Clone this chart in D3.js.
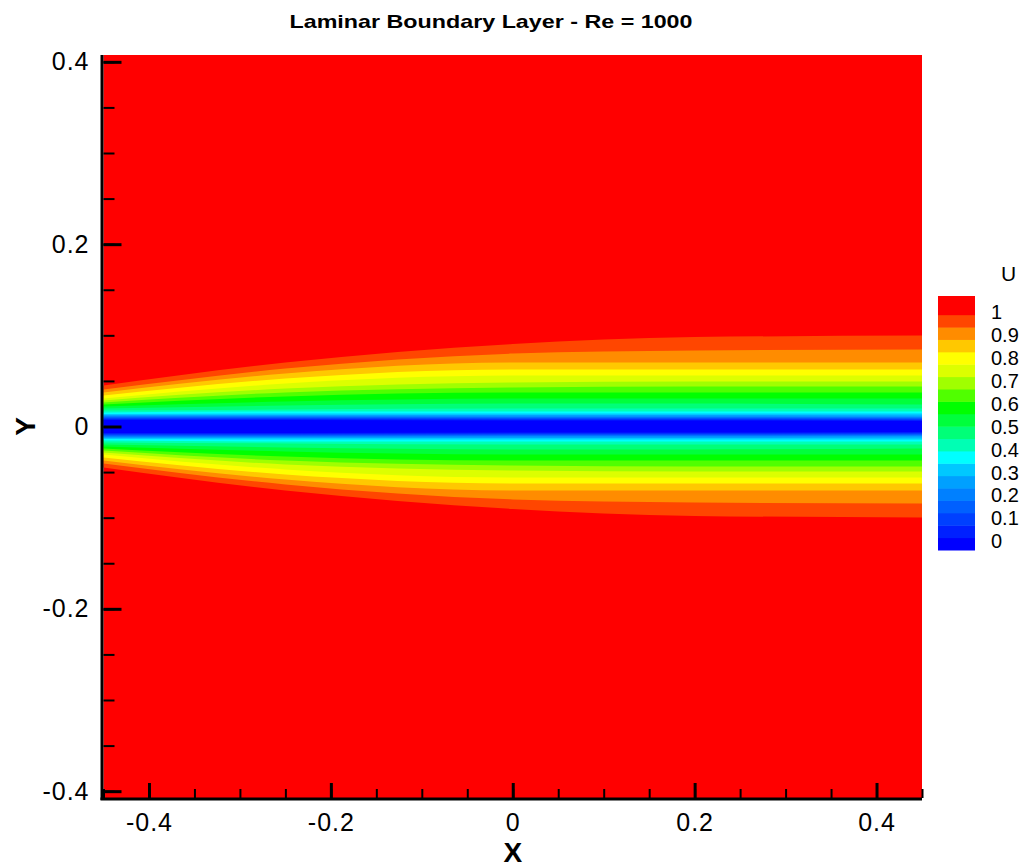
<!DOCTYPE html>
<html>
<head>
<meta charset="utf-8">
<script src="https://cdn.jsdelivr.net/npm/d3@7"></script>
<style>
  body { margin: 0; background: #fff; }
  text { font-family: "Liberation Sans", Arial, sans-serif; }
</style>
</head>
<body>
<div id="chart"></div>
<script>
const stationX = [-0.45, -0.25, 0, 0.2, 0.45];

// half-height (y) of each contour edge, level 0/1 ... 18/19, per station
const edgeXm045 = [0.0071, 0.0082, 0.0093, 0.0104, 0.0115, 0.0126, 0.0137, 0.0153, 0.0175, 0.0197, 0.0219, 0.0241, 0.0263, 0.0285, 0.0307, 0.0340, 0.0373, 0.0405, 0.0449];
const edgeXm025 = [0.0071, 0.0082, 0.0093, 0.0104, 0.0115, 0.0126, 0.0142, 0.0164, 0.0186, 0.0230, 0.0274, 0.0329, 0.0373, 0.0416, 0.0471, 0.0526, 0.0581, 0.0636, 0.0701];
const edgeX000  = [0.0066, 0.0077, 0.0088, 0.0099, 0.0110, 0.0126, 0.0142, 0.0164, 0.0197, 0.0252, 0.0307, 0.0373, 0.0427, 0.0482, 0.0559, 0.0625, 0.0701, 0.0800, 0.0904];
const edgeX020  = [0.0066, 0.0077, 0.0088, 0.0099, 0.0110, 0.0126, 0.0142, 0.0164, 0.0197, 0.0252, 0.0307, 0.0373, 0.0438, 0.0493, 0.0559, 0.0625, 0.0701, 0.0833, 0.0981];
const edgeX045  = [0.0060, 0.0071, 0.0082, 0.0093, 0.0104, 0.0120, 0.0142, 0.0164, 0.0197, 0.0241, 0.0307, 0.0373, 0.0438, 0.0493, 0.0559, 0.0625, 0.0701, 0.0844, 0.0997];
const stationEdges = [edgeXm045, edgeXm025, edgeX000, edgeX020, edgeX045];

// legend
const legendLabels = ["1", "0.9", "0.8", "0.7", "0.6", "0.5", "0.4", "0.3", "0.2", "0.1", "0"];
const xTicks = [-0.4, -0.2, 0, 0.2, 0.4];
const yTicks = [-0.4, -0.2, 0, 0.2, 0.4];

// band colours, U low -> high
const bandColors = ["#0000ff", "#0020ff", "#0040ff", "#0060ff", "#0080ff", "#00a0ff", "#00c8ff", "#00ffff",
                    "#00ffb4", "#00ff78", "#00ff3c", "#00ff00", "#50ff00", "#a0ff00", "#dcff00", "#ffff00",
                    "#ffc800", "#ff8c00", "#ff4600", "#ff0000"];

const W = 1021, H = 867;
let svg = d3.select("#chart").append("svg")
    .attr("width", W)
    .attr("height", H);

svg.append("rect").attr("width", W).attr("height", H).attr("fill", "#fff");

let x = d3.scaleLinear().domain([-0.45, 0.45]).range([103.5, 922]);
let y = d3.scaleLinear().domain([-0.4075, 0.4075]).range([798, 55]);

// plain hyphen for negatives, like the original
let fmt = d => String(+d.toFixed(1));

// background = top band
svg.append("rect")
    .attr("x", x(-0.45)).attr("y", y(0.4075))
    .attr("width", x(0.45) - x(-0.45))
    .attr("height", y(-0.4075) - y(0.4075))
    .attr("fill", bandColors[19]);

// paint bands from the outside in
let field = svg.append("g");
for (let k = 18; k >= 0; k--) {
    let pts = stationX.map((sx, i) => ({x: sx, e: stationEdges[i][k]}));
    field.append("path")
        .datum(pts)
        .attr("fill", bandColors[k])
        .attr("d", d3.area()
            .x(d => x(d.x))
            .y0(d => y(-d.e))
            .y1(d => y(d.e))
            .curve(d3.curveMonotoneX));
}

// axes
let minorY = d3.range(-0.4, 0.401, 0.05);
let minorX = d3.range(-0.45, 0.451, 0.05);

svg.append("g")
    .attr("transform", "translate(" + x(-0.45) + ",0)")
    .call(d3.axisLeft(y).tickValues(minorY).tickSize(-11).tickFormat(""))
    .call(g => g.select(".domain").remove())
    .selectAll("line").attr("stroke", "#000").attr("stroke-width", 2);

svg.append("g")
    .attr("transform", "translate(" + x(-0.45) + ",0)")
    .call(d3.axisLeft(y).tickValues(yTicks).tickSize(-18).tickPadding(10).tickFormat(fmt))
    .call(g => g.select(".domain").remove())
    .call(g => g.selectAll("line").attr("stroke", "#000").attr("stroke-width", 3))
    .selectAll("text")
    .attr("font-size", 25)
    .attr("fill", "#000")
    .attr("dx", -4)
    .attr("letter-spacing", 1);

svg.append("g")
    .attr("transform", "translate(0," + y(-0.4075) + ")")
    .call(d3.axisBottom(x).tickValues(minorX).tickSize(-9).tickFormat(""))
    .call(g => g.select(".domain").remove())
    .selectAll("line").attr("stroke", "#000").attr("stroke-width", 2);

svg.append("g")
    .attr("transform", "translate(0," + y(-0.4075) + ")")
    .call(d3.axisBottom(x).tickValues(xTicks).tickSize(-15).tickPadding(10).tickFormat(fmt))
    .call(g => g.select(".domain").remove())
    .call(g => g.selectAll("line").attr("stroke", "#000").attr("stroke-width", 3))
    .selectAll("text")
    .attr("font-size", 25)
    .attr("fill", "#000")
    .attr("dy", "0.9em")
    .attr("letter-spacing", 1);

// axis lines
svg.append("line")
    .attr("x1", x(-0.45) - 1.5).attr("x2", x(-0.45) - 1.5)
    .attr("y1", y(0.4075)).attr("y2", y(-0.4075) + 2)
    .attr("stroke", "#000").attr("stroke-width", 3);
svg.append("line")
    .attr("x1", x(-0.45) - 3).attr("x2", x(0.45))
    .attr("y1", y(-0.4075) + 1).attr("y2", y(-0.4075) + 1)
    .attr("stroke", "#000").attr("stroke-width", 3);

// titles
svg.append("text")
    .attr("x", 491).attr("y", 28)
    .attr("text-anchor", "middle")
    .attr("font-size", 19).attr("font-weight", "bold")
    .attr("textLength", 403).attr("lengthAdjust", "spacingAndGlyphs")
    .text("Laminar Boundary Layer - Re = 1000");

svg.append("text")
    .attr("x", x(0)).attr("y", 862)
    .attr("text-anchor", "middle")
    .attr("font-size", 28).attr("font-weight", "bold")
    .text("X");

svg.append("text")
    .attr("transform", "translate(35," + y(0) + ") rotate(-90)")
    .attr("text-anchor", "middle")
    .attr("font-size", 28).attr("font-weight", "bold")
    .text("Y");

// legend
let legTop = 296, legBot = 550, legX = 938, legW = 37;
let firstH = 18.7;
let stepH = (legBot - legTop - firstH) / 19;
let leg = svg.append("g");
bandColors.forEach((c, i) => {
    let y0, h;
    if (i === 19) { y0 = legTop; h = firstH; }
    else { y0 = legBot - (i + 1) * stepH; h = stepH; }
    leg.append("rect")
        .attr("x", legX).attr("y", y0)
        .attr("width", legW).attr("height", h + 0.5)
        .attr("fill", c);
});

let labY = d3.scaleLinear().domain([0, legendLabels.length - 1]).range([312, 541]);
leg.selectAll(".lab")
    .data(legendLabels)
    .join("text")
    .attr("class", "lab")
    .attr("x", 991)
    .attr("y", (d, i) => labY(i))
    .attr("dy", "0.36em")
    .attr("font-size", 20)
    .attr("fill", "#000")
    .text(d => d);

leg.append("text")
    .attr("x", 1001).attr("y", 281)
    .attr("font-size", 21)
    .attr("fill", "#000")
    .text("U");
</script>
</body>
</html>
